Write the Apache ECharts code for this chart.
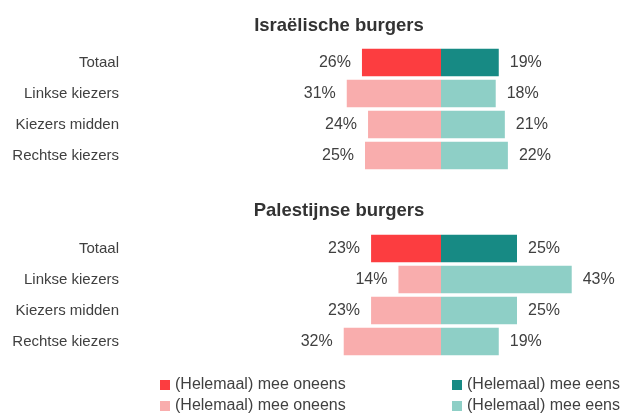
<!DOCTYPE html>
<html>
<head>
<meta charset="utf-8">
<script src="https://cdn.jsdelivr.net/npm/echarts@6/dist/echarts.min.js"></script>
<style>
  html, body { margin: 0; padding: 0; background: #fff; }
  #chart { width: 620px; height: 414px; }
</style>
</head>
<body>
<div id="chart"></div>
<script>
// categorieën en waarden (percentages)
var categories = ['Totaal', 'Linkse kiezers', 'Kiezers midden', 'Rechtse kiezers'];
var isrOneens = [26, 31, 24, 25];
var isrEens = [19, 18, 21, 22];
var palOneens = [23, 14, 23, 32];
var palEens = [25, 43, 25, 19];
var titles = ['Israëlische burgers', 'Palestijnse burgers'];
var legendText = {
  oneensDark: '(Helemaal) mee oneens',
  oneensLight: '(Helemaal) mee oneens',
  eensDark: '(Helemaal) mee eens',
  eensLight: '(Helemaal) mee eens'
};

var colors = {
  oneensDark: '#fc3d40',
  oneensLight: '#f9adad',
  eensDark: '#178a84',
  eensLight: '#8ecfc6'
};
var font = "'Liberation Sans', Arial, sans-serif";

function labelCfg(pos) {
  return {
    show: true,
    position: pos,
    distance: 11,
    color: '#404040',
    fontSize: 16,
    fontFamily: font,
    formatter: function (p) { return Math.abs(p.value) + '%'; }
  };
}

// eerste rij = donker (Totaal), rest = licht
function split(values, sign, dark) {
  return values.map(function (v, i) {
    if (dark) return i === 0 ? sign * v : '-';
    return i === 0 ? '-' : sign * v;
  });
}

var groups = [[isrOneens, isrEens], [palOneens, palEens]];
var series = [];
groups.forEach(function (g, idx) {
  var defs = [
    ['oneensDark', split(g[0], -1, true), 'left'],
    ['oneensLight', split(g[0], -1, false), 'left'],
    ['eensDark', split(g[1], 1, true), 'right'],
    ['eensLight', split(g[1], 1, false), 'right']
  ];
  defs.forEach(function (d) {
    series.push({
      name: d[0],
      type: 'bar',
      stack: 'g' + idx,
      xAxisIndex: idx,
      yAxisIndex: idx,
      barCategoryGap: '12%',
      itemStyle: { color: colors[d[0]] },
      label: labelCfg(d[2]),
      data: d[1]
    });
  });
});

// één legenda per item, zodat de 2x2 indeling klopt
var legendPos = [
  ['oneensDark', 160, 377],
  ['oneensLight', 160, 398],
  ['eensDark', 452, 377],
  ['eensLight', 452, 398]
];
var legends = legendPos.map(function (p) {
  return {
    data: [p[0]],
    left: p[1],
    top: p[2],
    padding: 0,
    icon: 'rect',
    itemWidth: 10,
    itemHeight: 10,
    itemGap: 4,
    selectedMode: false,
    formatter: function (n) { return legendText[n]; },
    textStyle: { color: '#404040', fontSize: 16, fontFamily: font }
  };
});

var chart = echarts.init(document.getElementById('chart'));
chart.setOption({
  animation: false,
  textStyle: { fontFamily: font },
  title: [
    { text: titles[0], left: 334, top: 11, textAlign: 'center',
      textStyle: { fontSize: 18.5, fontWeight: 'bold', color: '#333', fontFamily: font } },
    { text: titles[1], left: 334, top: 196, textAlign: 'center',
      textStyle: { fontSize: 18.5, fontWeight: 'bold', color: '#333', fontFamily: font } }
  ],
  grid: [
    { left: 289, width: 304, top: 47, height: 124 },
    { left: 289, width: 304, top: 233, height: 124 }
  ],
  xAxis: [0, 1].map(function (i) {
    return { type: 'value', gridIndex: i, min: -50, max: 50, show: false };
  }),
  yAxis: [0, 1].map(function (i) {
    return {
      type: 'category', gridIndex: i, inverse: true, data: categories,
      axisLine: { show: false }, axisTick: { show: false },
      axisLabel: { margin: 170, color: '#404040', fontSize: 15, fontFamily: font }
    };
  }),
  legend: legends,
  series: series
});
</script>
</body>
</html>
